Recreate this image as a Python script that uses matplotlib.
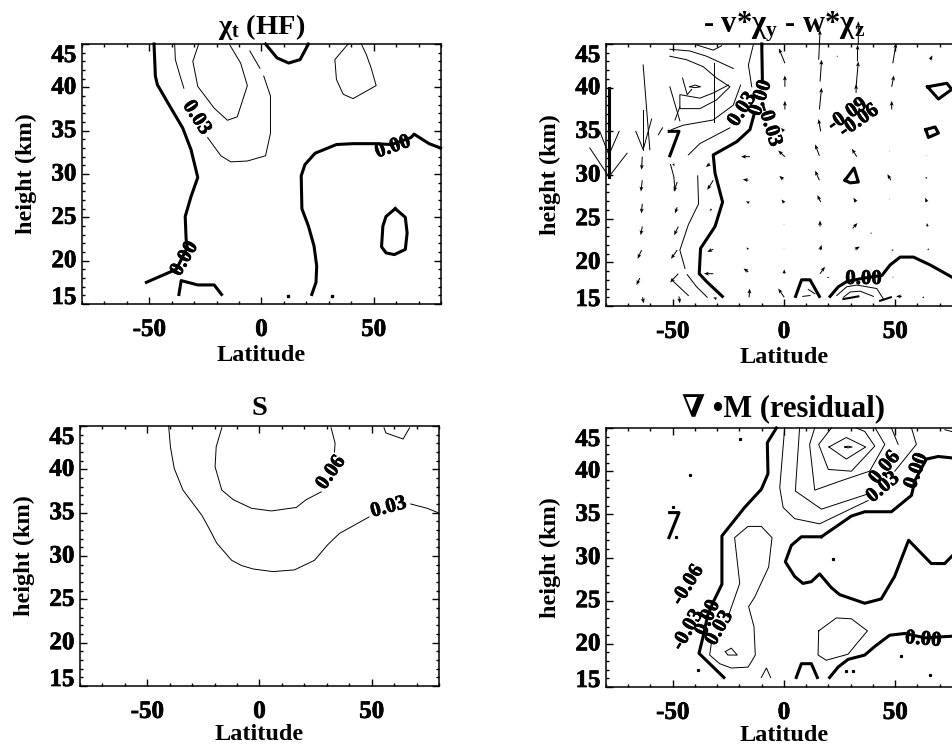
import matplotlib
matplotlib.use('Agg')
import matplotlib.pyplot as plt
import matplotlib.patheffects as pe
from matplotlib.ticker import MultipleLocator

plt.rcParams['font.family'] = ['Liberation Serif', 'DejaVu Serif']
plt.rcParams['font.weight'] = 'bold'
plt.rcParams['mathtext.fontset'] = 'custom'
plt.rcParams['mathtext.rm'] = 'Liberation Serif:bold'
plt.rcParams['mathtext.it'] = 'Liberation Serif:bold'
plt.rcParams['mathtext.bf'] = 'Liberation Serif:bold'
plt.rcParams['mathtext.default'] = 'bf'
plt.rcParams['axes.unicode_minus'] = False

TICK_SIZE = 18
LABEL_SIZE = 17.5
TITLE_SIZE = 20.5
CLABEL_SIZE = 15
HEAVY = [pe.withStroke(linewidth=0.5, foreground='black')]

# each contour is (latitudes, heights)

# chi_t (HF)
hf_zero1 = ([-47.9, -47.3, -46.4, -41.7, -35.1, -31.4, -28.4, -31.4, -34.0, -33.6, -33.1, -36, -38, -51.3],
            [45, 41.3, 40.3, 38.2, 35.3, 32.8, 29.6, 27.4, 25.1, 22.5, 21.5, 20, 19, 17.5])
hf_zero2 = ([-36.8, -35.8, -28.4, -21.1, -17.8], [16.1, 17.7, 17.2, 17.2, 16.1])
hf_zero3 = ([1.8, 6.9, 12.1, 17.2, 20.9], [45, 43.4, 42.8, 43.2, 45])
hf_zero4 = ([22.4, 24.3, 24.6, 23.4, 20.9, 18.0, 17.7, 19.4, 23.9, 33.4, 40.8, 50.4, 58, 66.6, 68, 74.7, 79.8],
            [16.1, 17.5, 19.4, 21.7, 24.0, 26.0, 29.8, 31.1, 32.4, 33.4, 33.5, 33.5, 33.4, 34.2, 34.6, 33.5, 33])
hf_zero5 = ([59.6, 64.1, 64.9, 64.1, 59.2, 55.5, 53.5, 54.1, 55.5, 59.6],
            [26, 25, 23.2, 21.3, 20.7, 20.9, 21.6, 24, 25.1, 26])
hf_p03a = ([-38.7, -38.4, -36.5, -34.6], [45, 43.2, 41.5, 39.9])
hf_p03b = ([-24, -18.1, -13.7, -6.3, 1.8, 4, 4, 1], [34.2, 32.1, 31.4, 31.5, 32.1, 34.7, 39, 41.3])
hf_p03c = ([-0.7, -5.2], [42.2, 44.2])
hf_p06 = ([-28, -30.6, -28.4, -21.1, -15.2, -10.8, -6.3, -9.3, -14.4],
          [45, 43, 40.1, 37.6, 36.2, 36.6, 40.2, 42.8, 45])
hf_p03d = ([38.6, 32.7, 33.4, 36.4, 40.8, 51.1, 48.9, 46.7, 44.5],
           [45, 43.2, 40.9, 39.2, 38.7, 40.2, 42.2, 43.8, 45])
hf_dots_lat = [12, 31.5]
hf_dots_h = [15.9, 15.9]

# S
s_p03 = ([-40.5, -39.7, -38, -34.1, -25.7, -22.3, -19.1, -12.4, -8, -2.8, 6, 15.6, 24.5, 30.4, 35.6, 48.8],
         [45, 42.6, 40.1, 37.6, 34.7, 33.1, 31.5, 29.5, 28.9, 28.5, 28.2, 28.4, 29.5, 31.3, 32.6, 34.5])
s_p03b = ([67.4, 74.8, 79.6], [36, 35.5, 35])
s_p06 = ([-16.8, -19.3, -19.8, -16.8, -11.7, -3.5, 5.3, 16.4, 20.8, 27.5],
         [44.8, 42.6, 40.3, 37.6, 36.5, 35.5, 35.2, 35.6, 36.5, 37.4])
s_p06b = ([33.4, 33.7, 31.9], [42, 43, 44.8])
s_p09 = ([55.5, 56.3, 64, 66.9], [44.8, 44.2, 43.5, 44.8])

# - v*chi_y - w*chi_z
adv_zero1 = ([-10, -9.7], [45, 40.7])
adv_zero2 = ([-13.5, -15.3, -21.3, -31.8, -31, -27.6, -31, -37.5, -38.1, -34.8, -27.7],
             [36.9, 35.2, 33.8, 32.3, 30.2, 26.9, 24.1, 21.6, 18.7, 17.8, 16.1])
adv_zero3 = ([-78.7, -78.7], [40, 29.8])
adv_zero4 = ([-51.6, -47.2, -51.3], [35, 35, 32.2])
adv_zero5 = ([20.7, 24.4, 28.2, 36, 44, 47.7, 52.2, 58.2, 65.7, 76.2, 80],
             [16.1, 17.2, 17.8, 18.2, 18.5, 19.7, 20.6, 20.6, 19.7, 18.2, 17.8])
adv_zero6 = ([5.2, 7.9, 11.7, 15.9], [16.1, 18, 18, 16.1])
adv_zero7 = ([64.5, 73.2, 75.4, 69.4, 64.5], [40.1, 40.5, 39.8, 38.7, 40.1])
adv_zero8 = ([63.7, 67.9, 69.4, 64.9, 63.7], [35.2, 35.5, 34.8, 34.3, 35.2])
adv_zero9 = ([27.4, 31.5, 33.4, 29.7, 27.4], [29.4, 30.8, 29.2, 29.1, 29.4])
adv_thin = [
    ([-39.3, -31.8, -28], [44.9, 44.3, 44.8]),
    ([-51.3, -42.3, -34.8, -22.8], [44.4, 44.2, 43.6, 42.2]),
    ([-51.3, -43.8, -36.3, -30.3, -24.3, -30.3, -37.8, -46.8, -46.8, -37.8, -31.8, -25],
     [43.6, 43.2, 42.4, 41.1, 40.1, 38.6, 37.6, 37.6, 39.2, 38.8, 39.4, 40.3]),
    ([-50.5, -45.3, -31.8, -22.8, -19.5], [35.2, 35.7, 36.3, 38, 40.3]),
    ([-43, -37.8, -30.3, -24.3], [32.3, 33.6, 34.6, 35.4]),
    ([-13.8, -16, -14.5], [44.9, 42.6, 40.1]),
    ([-38.8, -38.4, -43, -46.8, -44.5], [29.9, 26.7, 24.3, 21.4, 19.3]),
    ([-43.5, -39.3, -34.5], [18.6, 17.2, 16]),
    ([-51, -49.5, -49], [31.2, 29.8, 28.2]),
    ([-43, -50.5], [16.2, 18]),
    ([23.7, 28.2, 32.7, 41.7, 44.7], [16.2, 17.2, 17.4, 17, 15.8]),
    ([26.7, 29.7, 34.2, 40.2], [16, 16.6, 16.7, 16.1]),
    ([8.4, 11.7], [16.1, 16.2]),
    ([10.9, 13.9], [16.9, 16.4]),
    ([-51.3, -46.8], [40.1, 36.2]),
    ([-45.6, -43.5, -41.5], [41.1, 39.2, 39.8]),
    ([-46.8, -49], [37.8, 36.3]),
    ([-31.5, -31.5], [42.8, 36.1]),
    ([-42.3, -40, -37.5, -40, -42.3], [40.1, 40.3, 40.1, 40, 40.1]),
    ([-87.3, -78.7, -70.5], [33.1, 29.8, 32.5]),
    ([-82.8, -78.7, -74.1], [35, 32.3, 35]),
    ([-63.3, -60.3], [42.6, 32.9]),
    ([-63.3, -63.3], [37.5, 32.9]),
    ([-66.6, -63.3, -59.5], [35, 32.9, 36.4]),
    ([-56.5, -54.6], [34.6, 35.4]),
]
adv_short_thick = [
    ([26.7, 33.4], [15.8, 16.1]),
    ([43.2, 48], [15.6, 16]),
]

# residual arrows: tail position and length in axis units
arrow_lat = [-63.7, -63.7, -63.7, -63.7, -64, -64.8, -63.6,
             -48, -48, -47.5, -48, -47.5, -47.2, -49.8,
             -33.3, -31.8, -32.5, -31.8, -31.8, -30.3, -33.3,
             -15.3, -16, -15.6, -16, -16, -15.7,
             0.4, 0.4, 0.4, 0, 0.4, -0.3, 0.1, 0, 0, 0.1, 0.1,
             15.9, 16.2, 15.6, 16.5, 15.9, 15.9, 16.5, 16.2, 16.2, 16.2, 19.5,
             32.4, 33, 33.4, 32.4, 32.7, 32.4, 30.9, 31.9, 23.7,
             48.9, 48.4, 48.4, 47.4, 48, 47.4, 39.4, 49.2, 49.2, 52.9,
             65.7, 63.9, 64.2, 64.2, 64.5, 64.6, 63]
arrow_h = [32.1, 29.4, 26.7, 24.1, 21.4, 18.2, 16,
           29.2, 26.3, 24.1, 21.4, 18.7, 16.1, 31.3,
           31.3, 29.4, 26.1, 21.5, 18.7, 15.8, 33.7,
           32.1, 29.4, 26.8, 21.5, 18.9, 16,
           42.8, 40.1, 37.5, 35, 32.1, 29.5, 26.8, 24.3, 21.5, 18.7, 16,
           37.5, 40.7, 43.2, 35, 32.2, 29.4, 26.9, 24.1, 21.4, 18.7, 18.3,
           40.1, 43, 44.9, 39.4, 32.1, 26.9, 23.9, 21.5, 43.6,
           42.8, 40.1, 37.5, 32.7, 29.4, 27.2, 23.3, 21.4, 18.3, 16.1,
           43.2, 32.2, 29.6, 26.9, 24.1, 21.4, 16]
arrow_u = [-0.3, -0.6, -0.4, -0.7, -1.8, -1.5, 0.6,
           -1.5, -1, -1.9, -2.8, -3.7, 0.4, 0.6,
           -1.8, -2.7, -1, -2.7, -4.2, -1.5, -0.3,
           -4, -2.5, -1.5, -1, -2.2, 0.3,
           -2.7, 0, 0, -1.3, -3, -1.8, -1.2, 0, 0, 0, -2.7,
           1, 0.7, 0.6, -1, -1.9, -1.9, -1.5, 0, 0.7, 2.2, 0.9,
           1, 0.1, 0, 0, -2.2, -1.2, 2.1, 2.2, 0.7,
           1.5, 1, 0, 0, -1.5, 0, -0.7, -1, -0.6, -2.5,
           1, 0, -0.7, -0.7, -0.3, 0.6, -1]
arrow_v = [-1.5, -1.3, -1.1, -1.0, -1.0, -0.8, -0.7,
           -1.1, -0.7, -1, -1, -1, -0.8, -0.3,
           -0.4, -1.1, -0.2, -0.3, 0, 0.2, 0,
           0, 0.1, 0.2, 0.2, 0.4, 1,
           1.7, 1.3, 1, 0.4, 0.7, 0.4, 0.4, 0.1, 0.1, 0.5, 1,
           2.5, 2.5, 3.4, 1.4, 1.3, 1.1, 0.8, 0.7, 0.6, 0.8, -0.1,
           2.9, 1.9, 2.7, 1, 0.9, 0.5, 0.6, 0.3, 0,
           2.3, 1.3, 1, 0.1, 0.7, 0.1, 0.1, 0, 0, 0,
           0.5, 0.1, 0.2, 0.5, 0.4, 0.2, 0]

# div M (residual)
res_zero1 = ([-3.4, -7.5, -7.2, -10.2, -17.7, -27.9, -27.9, -31.5, -34.2, -36.4, -38.2, -32.6, -27],
             [45, 43.3, 39.7, 37.9, 35.8, 32.5, 26.9, 25, 23.4, 20.8, 18.9, 17.5, 16.1])
res_zero2 = ([5.5, 7.8, 12.3, 15], [16.1, 17.7, 17.7, 16.1])
res_zero3 = ([20.5, 24.3, 28.8, 36.3, 40.8, 47.5, 54.3, 63.3, 76.8, 80],
             [16.1, 17.3, 18.2, 18.7, 19.7, 21, 21.2, 20.7, 20.9, 21])
res_zero4 = ([16.8, 7.8, 3.3, 0.6, 4.8, 8.5, 12.3, 16, 21.3, 25, 36.3, 43.7, 49.7, 56, 66.2, 72.2, 76.8, 78],
             [32.4, 32.4, 31.4, 29.5, 27.8, 27, 27.2, 28.1, 26.5, 25.7, 24.7, 25.2, 27.8, 32, 29.3, 29.3, 30.5, 32])
res_zero5 = ([16.8, 30.3, 36.3, 48.3, 57.3, 58.8, 64, 69.3, 76.8, 80],
             [32.4, 34.8, 35.3, 35.3, 37.2, 38.9, 41.4, 41.7, 41.5, 41.5])
res_zero6 = ([-51.4, -47.2, -51.7], [35.2, 35.2, 32.3])
res_thin = [
    ([-25.2, -19.9, -22.2, -16.2, -10.2, -5.4, -6.9, -13.2, -15.9, -13.5, -12.9, -14.7, -16.2, -23.7, -28.9, -33.4, -32.7],
     [23.1, 27, 32.3, 33.6, 33.6, 32.3, 28.9, 25.4, 24.3, 22, 18.7, 17.9, 17.3, 17.2, 17.7, 18.7, 20]),
    ([-26.4, -23.7, -21, -25.2, -26.4], [19.1, 19.5, 18.7, 18.7, 19.1]),
    ([-10.2, -7.9, -6], [16.1, 17.2, 16.1]),
    ([15.6, 23.5, 30.3, 37.5, 32.6, 28.8, 19, 15.3, 15.6],
     [21.5, 23, 22.9, 21.5, 20, 18.8, 18.1, 18.7, 21.5]),
    ([0.3, -1.9, -0.4, 4.8, 16, 37.8], [45, 38.1, 35.8, 34.5, 33.9, 36.6]),
    ([49.8, 59.5, 57.3], [40, 43.1, 45]),
    ([7, 5.1, 16.8, 37], [45, 37.7, 35.6, 37.3]),
    ([51.3, 48.3], [43.1, 45]),
    ([13.8, 11.5, 13.8, 25.8, 38.5, 45.3, 41], [45, 43.1, 37.8, 38.9, 40, 43.1, 45]),
    ([21.3, 15.6, 19.9, 30.3, 40.8, 36.3, 32.5], [45, 43.1, 40.2, 40, 42.9, 44.6, 45]),
    ([20.2, 28, 36.7, 28, 20.2], [42.8, 43.9, 42.8, 41.4, 42.8]),
    ([27.3, 28.8, 30.6, 28.8, 27.3], [42.8, 42.9, 42.8, 42.7, 42.8]),
    ([72.3, 76.8], [44.8, 44.5]),
]
res_dots_lat = [-19.6, -42.4, -50, -48.4, 22, 52.8, 28, 31, 65.8, -38.7]
res_dots_h = [43.7, 39.5, 35.8, 32.4, 29.8, 18.6, 16.9, 16.9, 16.4, 17]

y_ticks = [15, 20, 25, 30, 35, 40, 45]
x_ticks = [-50, 0, 50]


def make_axes(fig, left, top, right, bottom, xlabel_y=-0.157):
    W, H = 953.0, 746.0
    ax = fig.add_axes([left / W, 1 - bottom / H, (right - left) / W, (bottom - top) / H])
    ax.set_xlim(-80, 80)
    ax.set_ylim(15, 45)
    ax.set_xticks(x_ticks)
    ax.set_yticks(y_ticks)
    ax.xaxis.set_minor_locator(MultipleLocator(10))
    ax.yaxis.set_minor_locator(MultipleLocator(1))
    ax.tick_params(which='major', direction='in', top=True, right=True, length=5, width=1.0)
    ax.tick_params(which='minor', direction='in', top=True, right=True, length=2.2, width=1.0)
    ax.tick_params(axis='x', which='major', pad=10, labelsize=TICK_SIZE)
    ax.tick_params(axis='y', which='major', pad=4, labelsize=TICK_SIZE)
    for lab, t in zip(ax.get_yticklabels(), y_ticks):
        if t == 45:
            lab.set_verticalalignment('top')
        elif t == 15:
            lab.set_verticalalignment('baseline')
        else:
            lab.set_verticalalignment('center')
    for lab in ax.get_xticklabels() + ax.get_yticklabels():
        lab.set_path_effects(HEAVY)
    for s in ax.spines.values():
        s.set_linewidth(1.1)
    ax.set_xlabel('Latitude', fontsize=LABEL_SIZE, fontweight='bold')
    ax.set_ylabel('height (km)', fontsize=LABEL_SIZE, fontweight='bold')
    ax.xaxis.set_label_coords(0.5, xlabel_y)
    ax.yaxis.set_label_coords(-0.125, 0.5)
    return ax


def thick(ax, *lines):
    for lat, h in lines:
        ax.plot(lat, h, color='black', lw=2.2, solid_joinstyle='round', clip_on=False)


def thin(ax, *lines):
    for lat, h in lines:
        ax.plot(lat, h, color='black', lw=0.7, clip_on=False)


def label(ax, lat, h, txt, rot):
    ax.text(lat, h, txt, rotation=rot, rotation_mode='anchor', ha='center', va='center',
            fontsize=CLABEL_SIZE, fontweight='bold', clip_on=False, path_effects=HEAVY)


fig = plt.figure(figsize=(9.53, 7.46), dpi=100, facecolor='white')

# top left
ax1 = make_axes(fig, 82, 44, 441, 304)
ax1.set_title(r'$\chi_t$ (HF)', fontsize=TITLE_SIZE, fontweight='bold', pad=7)
thick(ax1, hf_zero1, hf_zero2, hf_zero3, hf_zero4, hf_zero5)
thin(ax1, hf_p03a, hf_p03b, hf_p03c, hf_p06, hf_p03d)
ax1.plot(hf_dots_lat, hf_dots_h, 's', color='black', ms=1.5)
label(ax1, -28.9, 36.5, '0.03', -57)
label(ax1, 58.5, 33.1, '0.00', 19)
label(ax1, -34.3, 20.2, '0.00', 60)

# top right, runs past the edge of the page
ax2 = make_axes(fig, 606, 44, 962, 306)
ax2.set_title(r'- v*$\chi_y$ - w*$\chi_z$', fontsize=22, fontweight='bold', pad=4)
thick(ax2, adv_zero1, adv_zero2, adv_zero3, adv_zero4, adv_zero5, adv_zero6, adv_zero7, adv_zero8, adv_zero9)
thin(ax2, *adv_thin)
for lat, h in adv_short_thick:
    ax2.plot(lat, h, color='black', lw=1.5)
ax2.quiver(arrow_lat, arrow_h, arrow_u, arrow_v, angles='xy', scale_units='xy', scale=1,
           width=1.0, units='dots', headwidth=4, headlength=5, headaxislength=4,
           minlength=0.5, color='black', clip_on=False, zorder=3)
label(ax2, -18.7, 37.5, '0.03', 57)
label(ax2, -10.5, 38.8, '0.00', 72)
label(ax2, -6.6, 35.7, '-0.03', -73)
label(ax2, 28.5, 36.9, '-0.09', 35)
label(ax2, 33.7, 36.2, '-0.06', 35)
label(ax2, 35.7, 18.1, '0.00', 0)

# bottom left
ax3 = make_axes(fig, 80, 426, 439, 686, xlabel_y=-0.147)
ax3.set_title('S', fontsize=TITLE_SIZE, fontweight='bold', pad=8)
thin(ax3, s_p03, s_p03b, s_p06, s_p06b, s_p09)
label(ax3, 31.9, 39.6, '0.06', 55)
label(ax3, 57.5, 35.6, '0.03', 15)

# bottom right
ax4 = make_axes(fig, 606, 428, 962, 687, xlabel_y=-0.147)
ax4.set_title('\u2207 \u2022M (residual)', fontsize=22, fontweight='bold', pad=8)
thick(ax4, res_zero1, res_zero2, res_zero3, res_zero4, res_zero5, res_zero6)
thin(ax4, *res_thin)
ax4.plot(res_dots_lat, res_dots_h, 's', color='black', ms=1.3)
label(ax4, -43.2, 26.8, '-0.06', 58)
label(ax4, -43.2, 21.6, '-0.03', 60)
label(ax4, -34.2, 23, '0.00', 67)
label(ax4, -29, 21.8, '0.03', 60)
label(ax4, 62.5, 20.5, '0.00', -5)
label(ax4, 45.3, 40.4, '0.06', 50)
label(ax4, 44.5, 38.1, '0.03', 40)
label(ax4, 59.5, 40, '0.00', 70)

fig.savefig('out.png', dpi=100)
